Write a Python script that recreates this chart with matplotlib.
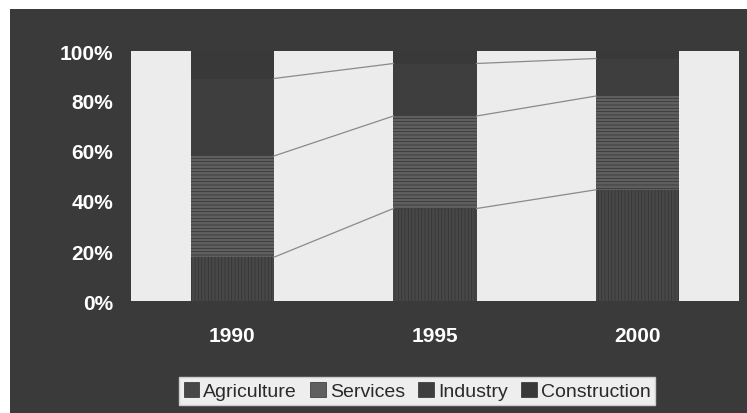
import numpy as np
import matplotlib.pyplot as plt
from matplotlib.patches import Rectangle, Patch

plt.rcParams['font.family'] = ['Liberation Sans', 'DejaVu Sans']
plt.rcParams['hatch.linewidth'] = 0.5

years = ['1990', '1995', '2000']
series = ['Agriculture', 'Services', 'Industry', 'Construction']
agriculture = [17.5, 37, 44.5]
services = [40.5, 37, 37.5]
industry = [31, 21, 15]
construction = [11, 5, 3]

colors = ['#474747', '#5f5f5f', '#3e3e3e', '#393939']
hatches = ['|||||', '-----', None, None]

fig = plt.figure(figsize=(7.47, 4.14), dpi=100)
fig.patch.set_facecolor('white')
# dark frame of the chart
fig.add_artist(Rectangle((10 / 747, 0), 1, 1 - 10 / 414, transform=fig.transFigure,
                         facecolor='#3a3a3a', edgecolor='none', zorder=-5))

ax = fig.add_axes([131 / 747, 112 / 414, 608 / 747, 250 / 414])
ax.set_facecolor('#ececec')

x = np.arange(len(years))
width = 0.41
vals = np.array([agriculture, services, industry, construction]) / 100
bottom = np.zeros(len(years))
for name, v, c, h in zip(series, vals, colors, hatches):
    ax.bar(x, v, width, bottom=bottom, color=c, hatch=h, edgecolor='#333333',
           linewidth=0, label=name, zorder=2)
    bottom = bottom + v
    # series lines between bars
    if name != series[-1]:
        for i in range(len(years) - 1):
            ax.plot([x[i] + width / 2, x[i + 1] - width / 2], [bottom[i], bottom[i + 1]],
                    color='#8a8a8a', lw=0.9, zorder=3)

ax.set_xlim(-0.5, 2.5)
ax.set_ylim(0, 1)
ax.set_xticks(x)
ax.set_xticklabels(years)
ax.set_yticks(np.arange(0, 1.01, 0.2))
ax.set_yticklabels([f'{int(round(t * 100))}%' for t in np.arange(0, 1.01, 0.2)])
ax.tick_params(length=0, colors='white', labelsize=15)
ax.tick_params(axis='x', pad=18)
ax.tick_params(axis='y', pad=13)
for lab in ax.get_xticklabels() + ax.get_yticklabels():
    lab.set_fontweight('bold')
for s in ax.spines.values():
    s.set_visible(False)

handles = [Patch(facecolor=c, edgecolor='#2e2e2e', linewidth=0.5) for c in colors]
leg = fig.legend(handles, series, loc='center', bbox_to_anchor=(417 / 747, 1 - 392 / 414),
                 ncol=4, frameon=True, fontsize=14, handlelength=0.8, handleheight=0.8,
                 handletextpad=0.2, columnspacing=0.7, borderpad=0.25, fancybox=False)
leg.get_frame().set_facecolor('#eeeeee')
leg.get_frame().set_edgecolor('#cccccc')
leg.get_frame().set_alpha(1)
for t in leg.get_texts():
    t.set_color('#2a2a2a')

fig.savefig('out.png', dpi=100, facecolor=fig.get_facecolor())
